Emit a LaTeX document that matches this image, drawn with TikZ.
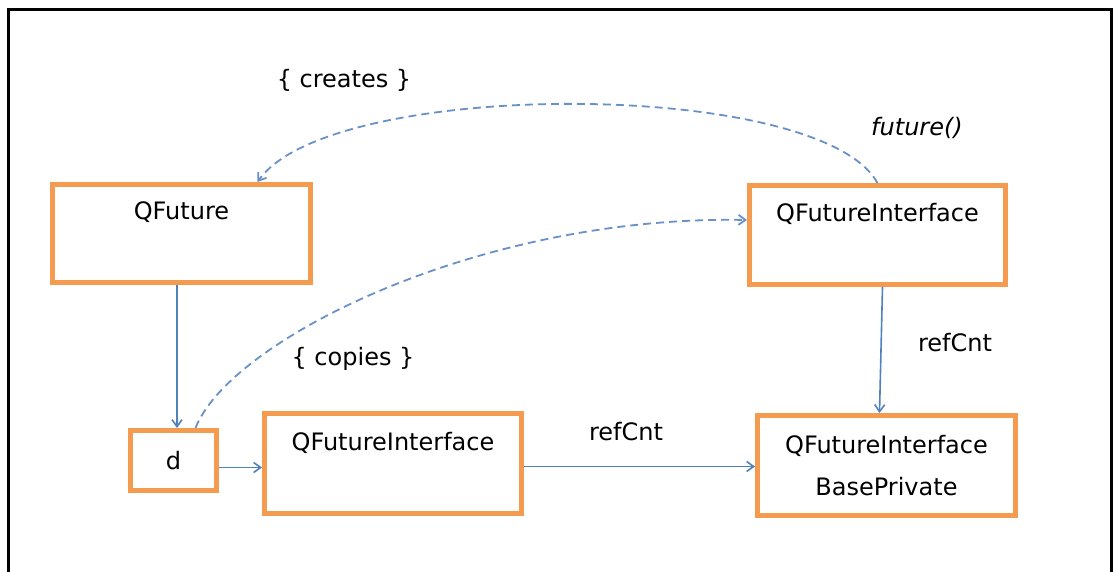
\documentclass[tikz,border=0pt]{standalone}
\usepackage{fontspec}
\setmainfont{DejaVu Sans}
\usepackage{xcolor}
\usepackage{tikz}
\usetikzlibrary{arrows.meta,
                positioning}
\definecolor{boxorange}{RGB}{245,155,80}
\definecolor{linkblue}{RGB}{79,129,189}
\definecolor{dashblue}{RGB}{105,145,200}
\tikzset{
  box/.style={draw=boxorange, line width=2.5pt, align=center, inner sep=0pt,
              font=\fontsize{12}{21}\selectfont},
  link/.style={linkblue, line width=0.8pt, -{Straight Barb[length=3.5pt,width=5pt]}},
  dlink/.style={link, dashblue, line width=0.9pt, dash pattern=on 4pt off 2.5pt},
  lbl/.style={font=\fontsize{12}{14}\selectfont}
}

\begin{document}
\begin{tikzpicture}[x=0.5pt,y=-0.5pt]
\useasboundingbox (0,0) rectangle (1114,572);
\draw[line width=1.5pt] (8.5,572) -- (8.5,9.5) -- (1111,9.5) -- (1111,572);

\node[box,minimum width=129pt,minimum height=49pt] (qfuture) at (181.5,233.5) {QFuture\\\vphantom{Q}};
\node[box,minimum width=128pt,minimum height=49.5pt] (tqfi) at (877.5,235) {QFutureInterface\\\vphantom{Q}};
\node[box,minimum width=43pt,minimum height=30pt] (d) at (173.5,460.5) {d};
\node[box,minimum width=128.5pt,minimum height=50pt] (bqfi) at (393,463.5) {QFutureInterface\\\vphantom{Q}};
\node[box,minimum width=129pt,minimum height=50pt] (priv) at (886.5,465.5) {QFutureInterface\\BasePrivate};

\draw[link] ([xshift=1.75pt]d.north |- qfuture.south) -- ([xshift=1.75pt]d.north);
\draw[link] ([yshift=-3.5pt]d.east) -- ([yshift=-3.5pt]d.east -| bqfi.west);
\draw[link] ([yshift=-1.5pt]bqfi.east) -- ([yshift=-1.5pt]bqfi.east -| priv.west);
\draw[link] ([xshift=2.5pt]tqfi.south) -- ([xshift=-3.5pt]priv.north);

\draw[dlink] (tqfi.north) .. controls (820,78) and (330,78) .. ([xshift=38pt]qfuture.north);
\draw[dlink] ([xshift=11pt]d.north) .. controls (230,340) and (480,215) .. ([yshift=7.5pt]tqfi.west);

\node[lbl] (creates) at (344,80) {\{ creates \}};
\node[lbl,font=\fontsize{12}{14}\selectfont\itshape] (future) at (917,128) {future()};
\node[lbl] (copies) at (353,359) {\{ copies \}};
\foreach \n/\x/\y in {refv/955/343, refh/626/432}
  \node[lbl] (\n) at (\x,\y) {refCnt};
\end{tikzpicture}
\end{document}
